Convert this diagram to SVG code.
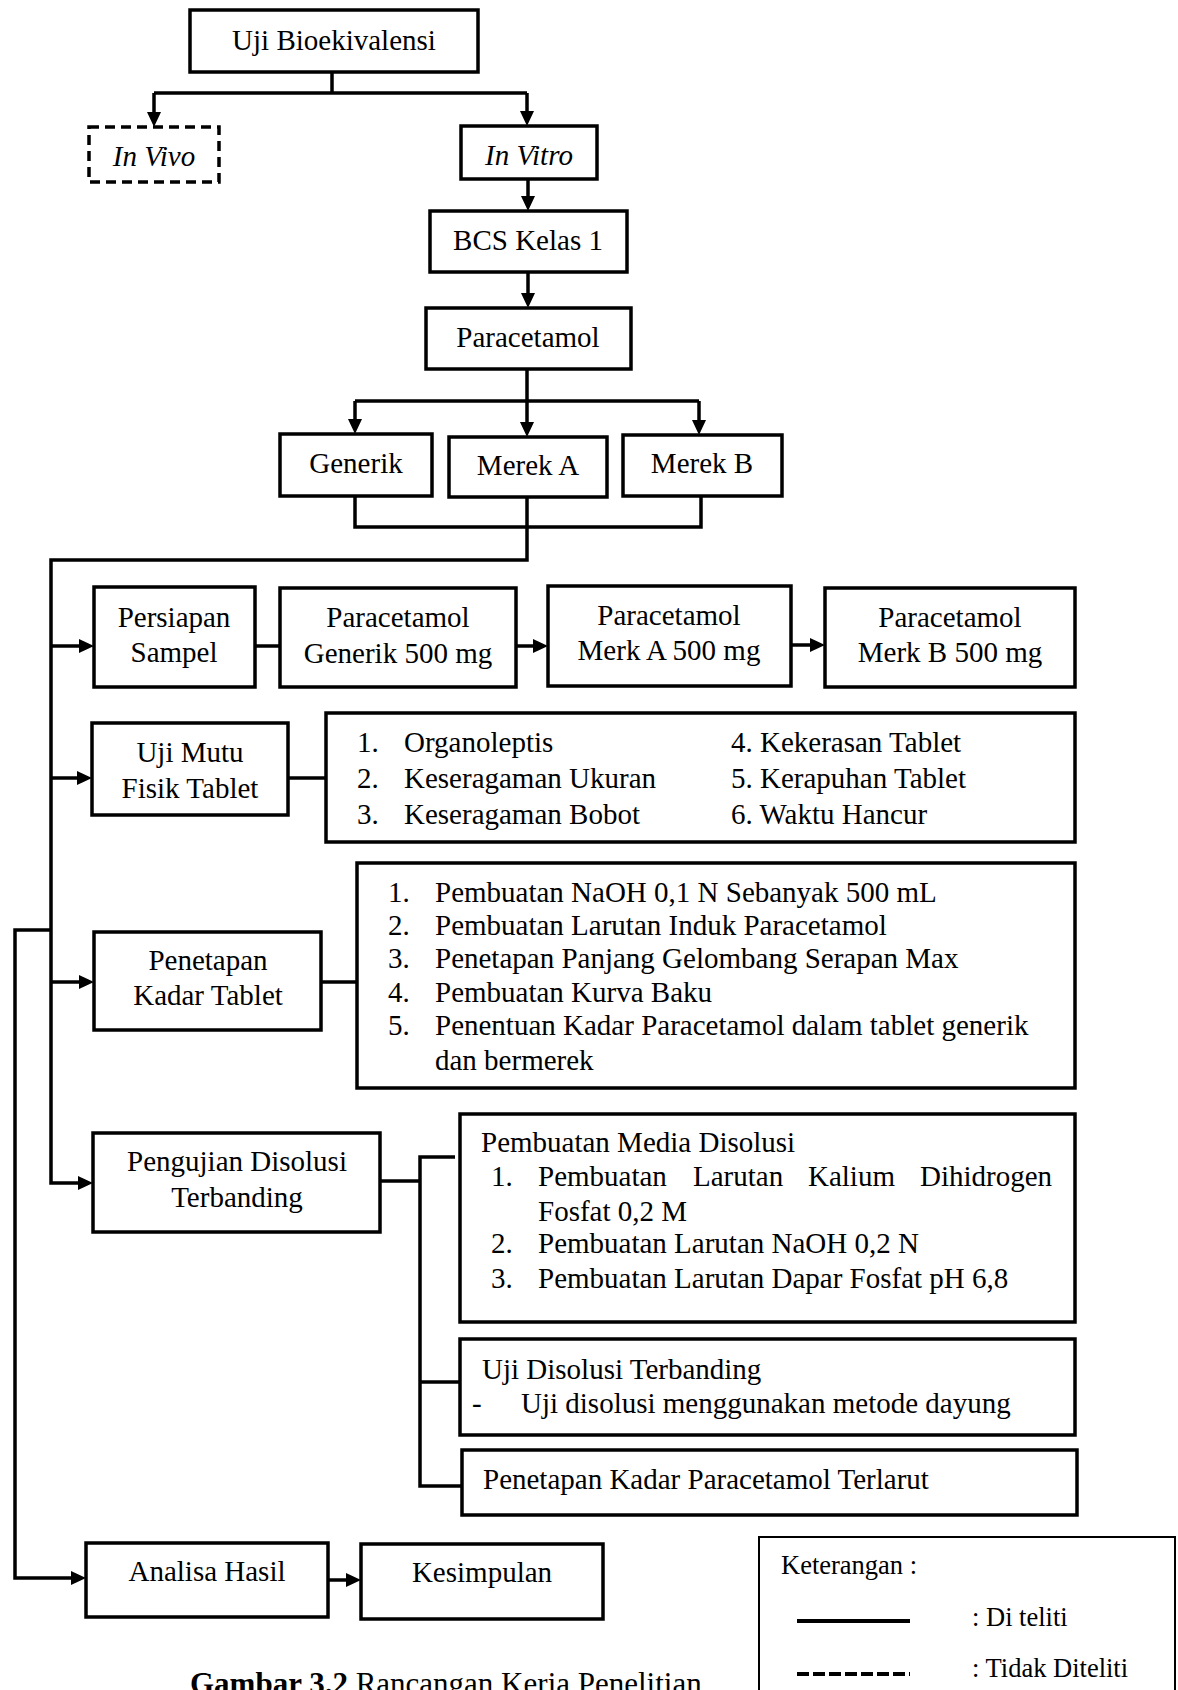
<svg xmlns="http://www.w3.org/2000/svg" width="1178" height="1690" viewBox="0 0 1178 1690">
<defs>
<style>
.b{fill:#fff;stroke:#000;stroke-width:3.5}
.d{fill:#fff;stroke:#000;stroke-width:3.5;stroke-dasharray:10 6}
.c{fill:none;stroke:#000;stroke-width:3.5}
text{font-family:"Liberation Serif","Times New Roman",serif;font-size:29px;fill:#000}
.m{text-anchor:middle}
.i{font-style:italic}
.s{font-size:26.5px}
</style>
<marker id="ar" viewBox="0 0 15 14" refX="7" refY="7" markerWidth="15" markerHeight="14" markerUnits="userSpaceOnUse" orient="auto">
<path d="M0,0 L15,7 L0,14 z" fill="#000"/>
</marker>
</defs>
<rect width="1178" height="1690" fill="#fff"/>
<g id="connectors">
<path class="c" d="M332,72 V93"/>
<path class="c" d="M154,93 H527"/>
<path class="c" d="M154,93 V119" marker-end="url(#ar)"/>
<path class="c" d="M527,93 V118" marker-end="url(#ar)"/>
<path class="c" d="M528,179 V203" marker-end="url(#ar)"/>
<path class="c" d="M528,272 V300" marker-end="url(#ar)"/>
<path class="c" d="M527,369 V401"/>
<path class="c" d="M355,401 H699"/>
<path class="c" d="M355,401 V426" marker-end="url(#ar)"/>
<path class="c" d="M527,401 V429" marker-end="url(#ar)"/>
<path class="c" d="M699,401 V427" marker-end="url(#ar)"/>
<path class="c" d="M355,496 V527 H701 V496"/>
<path class="c" d="M527,497 V560 H51 V1183 H85" marker-end="url(#ar)"/>
<path class="c" d="M51,646 H86" marker-end="url(#ar)"/>
<path class="c" d="M51,778 H84" marker-end="url(#ar)"/>
<path class="c" d="M51,982 H86" marker-end="url(#ar)"/>
<path class="c" d="M51,930 H15 V1578 H78" marker-end="url(#ar)"/>
<path class="c" d="M255,646 H280"/>
<path class="c" d="M516,646 H540" marker-end="url(#ar)"/>
<path class="c" d="M791,645 H817" marker-end="url(#ar)"/>
<path class="c" d="M288,778 H326"/>
<path class="c" d="M321,982 H357"/>
<path class="c" d="M380,1181 H420"/>
<path class="c" d="M455,1157 H420 V1486 H462"/>
<path class="c" d="M420,1382 H460"/>
<path class="c" d="M328,1580 H353" marker-end="url(#ar)"/>
</g>
<g id="uji-bioekivalensi"><rect class="b" x="190" y="10" width="288" height="62"/><text class="m" x="334" y="50">Uji Bioekivalensi</text></g>
<g id="in-vivo"><rect class="d" x="89" y="127" width="130" height="55"/><text class="m i" x="154" y="166">In Vivo</text></g>
<g id="in-vitro"><rect class="b" x="461" y="126" width="136" height="53"/><text class="m i" x="529" y="165">In Vitro</text></g>
<g id="bcs"><rect class="b" x="430" y="211" width="197" height="61"/><text class="m" x="528" y="250">BCS Kelas 1</text></g>
<g id="paracetamol"><rect class="b" x="426" y="308" width="205" height="61"/><text class="m" x="528" y="347">Paracetamol</text></g>
<g id="generik"><rect class="b" x="280" y="434" width="152" height="62"/><text class="m" x="356" y="473">Generik</text></g>
<g id="merek-a"><rect class="b" x="449" y="437" width="158" height="60"/><text class="m" x="528" y="475">Merek A</text></g>
<g id="merek-b"><rect class="b" x="623" y="435" width="159" height="61"/><text class="m" x="702" y="473">Merek B</text></g>
<g id="persiapan"><rect class="b" x="94" y="587" width="161" height="100"/><text class="m" x="174" y="627">Persiapan</text><text class="m" x="174" y="662">Sampel</text></g>
<g id="para-generik"><rect class="b" x="280" y="588" width="236" height="99"/><text class="m" x="398" y="627">Paracetamol</text><text class="m" x="398" y="663">Generik 500 mg</text></g>
<g id="para-merk-a"><rect class="b" x="548" y="586" width="243" height="100"/><text class="m" x="669" y="625">Paracetamol</text><text class="m" x="669" y="660">Merk A 500 mg</text></g>
<g id="para-merk-b"><rect class="b" x="825" y="588" width="250" height="99"/><text class="m" x="950" y="627">Paracetamol</text><text class="m" x="950" y="662">Merk B 500 mg</text></g>
<g id="uji-mutu"><rect class="b" x="92" y="723" width="196" height="92"/><text class="m" x="190" y="762">Uji Mutu</text><text class="m" x="190" y="798">Fisik Tablet</text></g>
<g id="uji-mutu-list"><rect class="b" x="326" y="713" width="749" height="129"/>
<text x="357" y="752">1.</text><text x="404" y="752">Organoleptis</text>
<text x="357" y="788">2.</text><text x="404" y="788">Keseragaman Ukuran</text>
<text x="357" y="824">3.</text><text x="404" y="824">Keseragaman Bobot</text>
<text x="731" y="752">4. Kekerasan Tablet</text>
<text x="731" y="788">5. Kerapuhan Tablet</text>
<text x="731" y="824">6. Waktu Hancur</text>
</g>
<g id="penetapan-kadar"><rect class="b" x="94" y="932" width="227" height="98"/><text class="m" x="208" y="970">Penetapan</text><text class="m" x="208" y="1005">Kadar Tablet</text></g>
<g id="penetapan-list"><rect class="b" x="357" y="863" width="718" height="225"/>
<text x="388" y="902">1.</text><text x="435" y="902">Pembuatan NaOH 0,1 N Sebanyak 500 mL</text>
<text x="388" y="935">2.</text><text x="435" y="935">Pembuatan Larutan Induk Paracetamol</text>
<text x="388" y="968">3.</text><text x="435" y="968">Penetapan Panjang Gelombang Serapan Max</text>
<text x="388" y="1002">4.</text><text x="435" y="1002">Pembuatan Kurva Baku</text>
<text x="388" y="1035">5.</text><text x="435" y="1035">Penentuan Kadar Paracetamol dalam tablet generik</text>
<text x="435" y="1070">dan bermerek</text>
</g>
<g id="pengujian-disolusi"><rect class="b" x="93" y="1133" width="287" height="99"/><text class="m" x="237" y="1171">Pengujian Disolusi</text><text class="m" x="237" y="1207">Terbanding</text></g>
<g id="media-disolusi"><rect class="b" x="460" y="1114" width="615" height="208"/>
<text x="481" y="1152">Pembuatan Media Disolusi</text>
<text x="491" y="1186">1.</text><text x="538" y="1186">Pembuatan</text><text x="693" y="1186">Larutan</text><text x="808" y="1186">Kalium</text><text x="920" y="1186">Dihidrogen</text>
<text x="538" y="1221">Fosfat 0,2 M</text>
<text x="491" y="1253">2.</text><text x="538" y="1253">Pembuatan Larutan NaOH 0,2 N</text>
<text x="491" y="1288">3.</text><text x="538" y="1288">Pembuatan Larutan Dapar Fosfat pH 6,8</text>
</g>
<g id="uji-disolusi"><rect class="b" x="460" y="1339" width="615" height="96"/>
<text x="482" y="1379">Uji Disolusi Terbanding</text>
<text x="472" y="1413">-</text><text x="521" y="1413">Uji disolusi menggunakan metode dayung</text>
</g>
<g id="penetapan-terlarut"><rect class="b" x="462" y="1450" width="615" height="65"/><text x="483" y="1489">Penetapan Kadar Paracetamol Terlarut</text></g>
<g id="analisa-hasil"><rect class="b" x="86" y="1543" width="242" height="74"/><text class="m" x="207" y="1581">Analisa Hasil</text></g>
<g id="kesimpulan"><rect class="b" x="361" y="1544" width="242" height="75"/><text class="m" x="482" y="1582">Kesimpulan</text></g>
<g id="legend">
<rect x="759" y="1537" width="416" height="200" fill="#fff" stroke="#000" stroke-width="2"/>
<text class="s" x="781" y="1574">Keterangan :</text>
<line x1="797" y1="1621" x2="910" y2="1621" stroke="#000" stroke-width="4"/>
<text class="s" x="972" y="1626">: Di teliti</text>
<line x1="797" y1="1674" x2="910" y2="1674" stroke="#000" stroke-width="4" stroke-dasharray="12 4"/>
<text class="s" x="972" y="1677">: Tidak Diteliti</text>
</g>
<text x="190" y="1694" style="font-size:31px"><tspan font-weight="bold">Gambar 3.2</tspan> Rancangan Kerja Penelitian</text>
</svg>
